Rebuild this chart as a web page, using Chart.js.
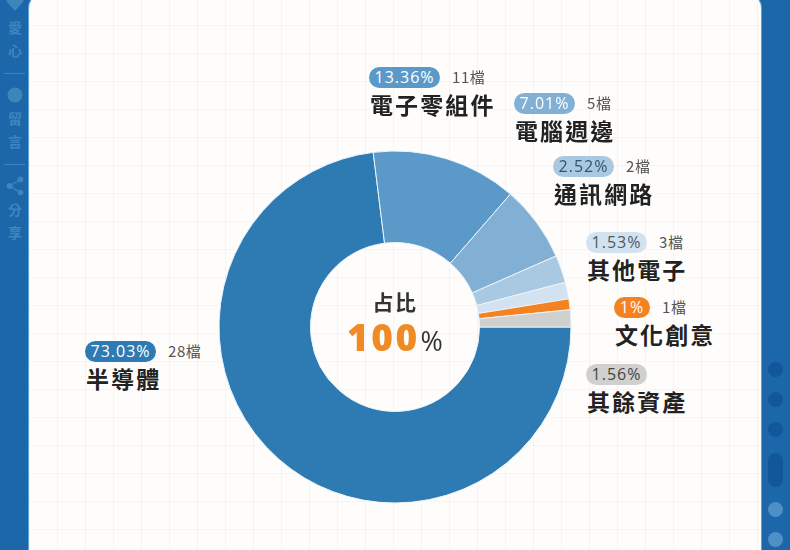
<!DOCTYPE html>
<html lang="zh-Hant">
<head>
<meta charset="utf-8">
<title>占比</title>
<script src="https://cdn.jsdelivr.net/npm/chart.js@4"></script>
<style>
html,body{margin:0;padding:0;width:790px;height:550px;overflow:hidden;background:#1b67a9;font-family:"Noto Sans CJK TC","Noto Sans",sans-serif;}
#card{position:absolute;left:29px;top:-6px;width:732px;height:600px;border-radius:14px;background-color:#fefdfb;
  box-shadow:0 0 0 1px #5fa3d6;
  background-image:
   linear-gradient(to right,rgba(120,110,90,.06) 1px,transparent 1px),
   linear-gradient(to bottom,rgba(120,110,90,.05) 1px,transparent 1px);
  background-size:28px 28px;background-position:0px 3px;}
#wrap{position:absolute;left:217px;top:148.5px;width:356px;height:356px;}
.pill{position:absolute;height:21px;line-height:21px;border-radius:11px;text-align:center;font:400 16px/21px "Open Sans","Noto Sans",sans-serif;letter-spacing:1px;}
.cnt{position:absolute;height:21px;font:400 15px/21px "Noto Sans CJK TC",sans-serif;color:#555;white-space:nowrap;letter-spacing:.6px;}
.name{position:absolute;font:700 23px/28px "Noto Sans CJK TC",sans-serif;color:#222;white-space:nowrap;letter-spacing:2.1px;}
#c1{position:absolute;left:295px;width:200px;top:288px;text-align:center;font:700 21px/26px "Noto Sans CJK TC",sans-serif;color:#333;letter-spacing:1.5px;}
#c2{position:absolute;left:295px;width:200px;top:314px;text-align:center;font:800 37px/46px "Open Sans",sans-serif;color:#f08a24;letter-spacing:2.5px;}
#c2 span{font:400 27px/46px "Open Sans",sans-serif;color:#333;letter-spacing:0;margin-left:1px;}
.side{position:absolute;left:4px;width:22px;text-align:center;font:700 14px/20px "Noto Sans CJK TC",sans-serif;color:#3f85bd;}
.rule{position:absolute;left:4px;width:21px;height:1px;background:#3f85bd;}
.dot{position:absolute;left:768px;width:15px;background:#12579a;border-radius:8px;}
</style>
</head>
<body>
<div id="card"></div>

<svg style="position:absolute;left:6px;top:-8px" width="18" height="20" viewBox="0 0 18 20"><path d="M9 19 L1 10 C-1 6 2 2 5 2 C7 2 8 3 9 5 C10 3 11 2 13 2 C16 2 19 6 17 10 Z" fill="#3f85bd"/></svg>
<svg style="position:absolute;left:7px;top:87px" width="16" height="16" viewBox="0 0 16 16"><circle cx="8" cy="8" r="7.5" fill="#3f85bd"/></svg>
<svg style="position:absolute;left:6px;top:176px" width="18" height="20" viewBox="0 0 18 20"><g fill="#3f85bd" stroke="#3f85bd"><circle cx="14.5" cy="3.5" r="2.5"/><circle cx="14.5" cy="16.5" r="2.5"/><circle cx="3.5" cy="10" r="2.5"/><path d="M14.5 3.5L3.5 10L14.5 16.5" fill="none" stroke-width="1.3"/></g></svg>
<div class="side" style="top:17px">愛</div>
<div class="side" style="top:40px">心</div>
<div class="rule" style="top:73px"></div>
<div class="side" style="top:108px">留</div>
<div class="side" style="top:131px">言</div>
<div class="rule" style="top:164px"></div>
<div class="side" style="top:199px">分</div>
<div class="side" style="top:222px">享</div>

<div class="dot" style="top:362px;height:15px"></div>
<div class="dot" style="top:392px;height:15px"></div>
<div class="dot" style="top:422px;height:15px"></div>
<div class="dot" style="top:453px;height:34px"></div>
<div class="dot" style="top:502px;height:15px;background:#4f8fc8"></div>
<div class="dot" style="top:532px;height:15px;background:#4f8fc8"></div>

<div id="wrap"><canvas id="pie"></canvas></div>
<div id="labels"></div>
<div id="c1">占比</div>
<div id="c2">100<span>%</span></div>

<script>
const categories = ['半導體','電子零組件','電腦週邊','通訊網路','其他電子','文化創意','其餘資產'];
const shares     = [73.03,13.36,7.01,2.52,1.53,1,1.56];
const counts     = ['28檔','11檔','5檔','2檔','3檔','1檔',''];
const colors     = ['#2e7ab3','#5b9ac8','#82b0d4','#a9c9e3','#d3e2ef','#f58220','#d0d0cf'];
const pillText   = ['#fff','#fff','#fff','#33536e','#4a5a68','#fff','#444'];
// left, top of pill + pill width, for each label
const pillX = [85,369,514,553,586,614,586];
const pillY = [341,67,93,156,232,297,364];
const pillW = [71,71,61,61,61,36,61];

document.getElementById('labels').innerHTML = categories.map((c,i)=>`
  <div class="pill" style="left:${pillX[i]}px;top:${pillY[i]}px;width:${pillW[i]}px;background:${colors[i]};color:${pillText[i]}">${shares[i]}%</div>
  <div class="cnt" style="left:${pillX[i]+pillW[i]+12}px;top:${pillY[i]-1}px">${counts[i]}</div>
  <div class="name" style="left:${pillX[i]+1}px;top:${pillY[i]+23}px">${c}</div>
`).join('');

new Chart(document.getElementById('pie').getContext('2d'),{
  type:'doughnut',
  data:{ labels:categories,
    datasets:[{ data:shares, backgroundColor:colors, borderColor:'#e9f3fa', borderWidth:1 }]
  },
  options:{
    responsive:true, maintainAspectRatio:false, animation:false,
    rotation:90, cutout:'48%',
    layout:{padding:1.5},
    plugins:{ legend:{display:false}, tooltip:{enabled:false} }
  }
});
</script>
</body>
</html>
